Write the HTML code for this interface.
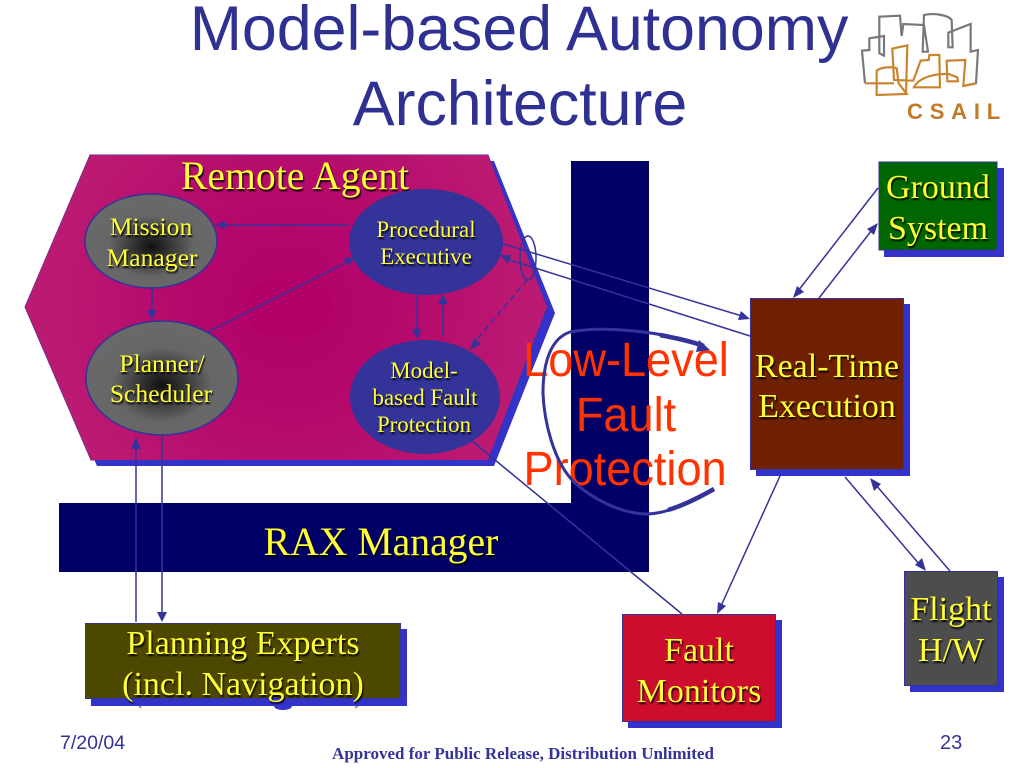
<!DOCTYPE html>
<html>
<head>
<meta charset="utf-8">
<style>
html,body{margin:0;padding:0;background:#fff;width:1024px;height:768px;overflow:hidden}
svg{display:block}
.s{font-family:"Liberation Serif",serif;fill:#ffff33;text-anchor:middle;filter:drop-shadow(1.5px 2px .7px rgba(0,0,0,.95))}
.a{font-family:"Liberation Sans",sans-serif}
.l{stroke:#333399;stroke-width:1.5;fill:none}
.ah{fill:#333399}
</style>
</head>
<body>
<svg width="1024" height="768" viewBox="0 0 1024 768" xmlns="http://www.w3.org/2000/svg">
<defs>
<radialGradient id="hx" gradientUnits="userSpaceOnUse" cx="290" cy="307" r="240">
<stop offset="0" stop-color="#b0006a"/><stop offset=".45" stop-color="#b5086c"/><stop offset="1" stop-color="#bb1a72"/>
</radialGradient>
<radialGradient id="gr" cx=".5" cy=".56" r=".5"><stop offset="0" stop-color="#111"/><stop offset=".2" stop-color="#2a2a2a"/><stop offset=".65" stop-color="#666"/><stop offset="1" stop-color="#696969"/></radialGradient>
</defs>

<text class="a" x="519" y="50" font-size="62.7" fill="#2e3192" text-anchor="middle">Model-based Autonomy</text>
<text class="a" x="520" y="125" font-size="62.7" fill="#2e3192" text-anchor="middle">Architecture</text>

<!-- logo -->
<g transform="translate(850,0) scale(.3333)" fill="none" stroke-width="6.5">
<path stroke="#77787b" d="M45 250L36 152L58 150L58 115L102 108L102 167L88 160L88 50L150 47L155 108L160 72L222 75L234 155L218 155L222 45C250 38 295 45 305 60L308 142L295 142L295 98L362 72L362 155L384 150L378 250L340 258"/>
<path stroke="#c8842c" d="M45 250L132 250M80 285L80 212C95 200 130 200 140 205L146 250L170 282ZM80 285L168 282L172 136L127 146L132 240L190 242L212 182L236 180L238 165L268 165L270 262L192 262C205 235 250 220 296 222L322 232L324 244L292 244L290 182L346 180L340 258L378 250"/>
</g>
<text x="907" y="119" font-family="'Liberation Sans',sans-serif" font-weight="bold" font-size="22" fill="#c07a28" letter-spacing="6.8">CSAIL</text>

<!-- navy L -->
<path d="M571 161H649V572H59V503H571Z" fill="#000066"/>

<!-- hexagon -->
<polygon points="96,161 494,161 555,313 494,466 97,466 31,313" fill="#3333cc"/>
<polygon points="90,155 488,155 547,307 488,460 91,460 25,307" fill="#bb1a72" stroke="#3333aa" stroke-width="1"/>
<polygon points="90,155 488,155 547,307 488,460 91,460 25,307" fill="url(#hx)"/>
<polygon points="255,283 322,283 334,307 322,333 255,333 245,307" fill="#b30068"/>

<text class="s" x="295" y="189" font-size="39.7">Remote Agent</text>

<!-- ellipses -->
<ellipse cx="151" cy="241" rx="66" ry="47" fill="url(#gr)" stroke="#333399" stroke-width="1.5"/>
<ellipse cx="162" cy="378" rx="76" ry="57" fill="url(#gr)" stroke="#333399" stroke-width="1.5"/>
<ellipse cx="426" cy="242" rx="77" ry="53" fill="#333399"/>
<ellipse cx="425" cy="397" rx="75" ry="57" fill="#333399"/>

<!-- internal lines -->
<g class="l">
<path d="M349 225H222"/>
<path d="M152 288V312"/>
<path d="M208 332L347 262"/>
<path d="M417 295V332"/>
<path d="M443 336V303"/>
<path d="M527 280L478 338" stroke-dasharray="6 4"/>
<path d="M136 622V446"/>
<path d="M162 435V612"/>
</g>
<polygon class="ah" points="215,225 225,221 225,229"/>
<polygon class="ah" points="152,320 147,310 157,310"/>
<polygon class="ah" points="355,257 344,258 348,266"/>
<polygon class="ah" points="417,339 412,329 422,329"/>
<polygon class="ah" points="443,294 438,304 448,304"/>
<polygon class="ah" points="470,350 474,338 481,344"/>
<polygon class="ah" points="136,437 131,449 141,449"/>
<polygon class="ah" points="162,622 157,612 167,612"/>

<text class="s" x="151" y="235" font-size="25.6">Mission</text>
<text class="s" x="152" y="266" font-size="25.6">Manager</text>
<text class="s" x="162" y="372" font-size="25.6">Planner/</text>
<text class="s" x="161" y="402" font-size="25.6">Scheduler</text>
<text class="s" x="426" y="237" font-size="22.9">Procedural</text>
<text class="s" x="426" y="264" font-size="22.9">Executive</text>
<text class="s" x="424" y="378" font-size="22.9">Model-</text>
<text class="s" x="425" y="405" font-size="22.9">based Fault</text>
<text class="s" x="424" y="432" font-size="22.9">Protection</text>

<!-- outer boxes -->
<rect x="884" y="168" width="120" height="89" fill="#3333cc"/>
<rect x="879" y="162" width="118" height="88" fill="#006600" stroke="#333399"/>
<rect x="756" y="304" width="154" height="172" fill="#3333cc"/>
<rect x="750.5" y="298.5" width="153" height="171" fill="#6f2000" stroke="#333399"/>
<rect x="628" y="620" width="154" height="108" fill="#3333cc"/>
<rect x="622.5" y="614.5" width="153" height="107" fill="#cc0d2e" stroke="#333399"/>
<rect x="910" y="577" width="94" height="115" fill="#3333cc"/>
<rect x="904.5" y="571.5" width="93" height="114" fill="#4d4d4d" stroke="#333399"/>
<path d="M135 700L141 708M355 708L365 700" stroke="#9a9ab0" stroke-width="2"/>
<rect x="91" y="629" width="316" height="77" fill="#3333cc"/>
<ellipse cx="283" cy="706" rx="9" ry="4" fill="#3333cc"/>
<rect x="85.5" y="623.5" width="315" height="75" fill="#4d4800" stroke="#333399"/>

<!-- outer lines -->
<g class="l" stroke-width="1.3">
<path d="M500 243L742 316"/>
<path d="M510 260L750 336"/>
<path d="M878 188L798 291"/>
<path d="M819 298L872 230"/>
<path d="M780 476L721 606"/>
<path d="M472 441L682 614"/>
<path d="M845 477L920 565"/>
<path d="M875 484L950 571"/>
<ellipse cx="528" cy="258" rx="8" ry="22"/>
</g>
<polygon class="ah" points="750,319 738,320 741,311"/>
<polygon class="ah" points="500,255 511,255 508,264"/>
<polygon class="ah" points="793,298 797,286 804,292"/>
<polygon class="ah" points="878,223 874,235 867,229"/>
<polygon class="ah" points="717,614 718,602 726,606"/>
<polygon class="ah" points="926,571 915,565 922,558"/>
<polygon class="ah" points="870,478 881,484 874,491"/>

<text class="s" x="938" y="198" font-size="34">Ground</text>
<text class="s" x="938" y="239" font-size="34">System</text>
<text class="s" x="827" y="377" font-size="34">Real-Time</text>
<text class="s" x="827" y="417" font-size="34">Execution</text>
<text class="s" x="699" y="661" font-size="34">Fault</text>
<text class="s" x="699" y="702" font-size="34">Monitors</text>
<text class="s" x="951" y="620" font-size="34">Flight</text>
<text class="s" x="951" y="661" font-size="34">H/W</text>
<text class="s" x="243" y="654" font-size="34">Planning Experts</text>
<text class="s" x="243" y="695" font-size="34">(incl. Navigation)</text>
<text class="s" x="381" y="555" font-size="39.7">RAX Manager</text>

<!-- red text and curve -->
<g transform="translate(626,0) scale(.94,1)" font-size="48" fill="#ff3300" text-anchor="middle" class="a">
<text x="0" y="376">Low-Level</text>
<text x="0" y="431">Fault</text>
<text x="-1" y="485">Protection</text>
</g>
<path d="M714 489C695 499 672 513 648 514C620 514 592 498 575 483C553 462 544 420 543 393C543 360 552 338 570 332C600 326 660 330 704 346" fill="none" stroke="#333399" stroke-width="3" stroke-linecap="butt"/>
<path d="M714 489C700 497 685 505 668 510" fill="none" stroke="#333399" stroke-width="4.5"/>
<path d="M660 335C675 338 690 341 704 346" fill="none" stroke="#333399" stroke-width="4.5"/>
<polygon class="ah" points="710,350 696,352 699,340"/>

<!-- footer -->
<text class="a" x="60" y="749" font-size="19.5" fill="#333399">7/20/04</text>
<text x="523" y="759" font-family="'Liberation Serif',serif" font-weight="bold" font-size="17" fill="#333399" text-anchor="middle">Approved for Public Release, Distribution Unlimited</text>
<text class="a" x="940" y="749" font-size="20" fill="#333399">23</text>
</svg>
</body>
</html>
